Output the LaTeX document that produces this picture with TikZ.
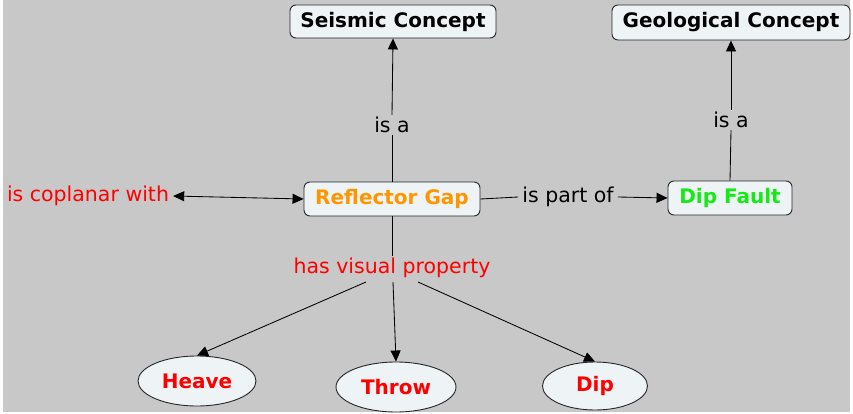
\documentclass[tikz,border=0pt]{standalone}
\usepackage{fontspec}
\setmainfont{DejaVu Sans}
\usetikzlibrary{arrows.meta,shapes.geometric}
\definecolor{bg}{RGB}{200,200,200}
\definecolor{boxfill}{RGB}{238,244,246}
\definecolor{orangetxt}{RGB}{255,150,0}
\definecolor{greentxt}{RGB}{20,235,20}
\definecolor{redtxt}{RGB}{255,0,0}
\tikzset{
  concept/.style={draw=black!85, line width=0.9pt, fill=boxfill, rounded corners=6pt, font=\fontsize{20}{22}\selectfont\bfseries, inner sep=0pt, minimum height=33pt},
  oval/.style={draw=black!85, line width=0.9pt, fill=boxfill, ellipse, font=\fontsize{20}{22}\selectfont\bfseries, text=redtxt, inner sep=0pt},
  lbl/.style={font=\fontsize{20.5}{22}\selectfont, inner xsep=4pt, inner ysep=2pt},
  conn/.style={line width=0.85pt, draw=black},
  arr/.style={conn, -{Triangle[length=11pt,width=10pt]}},
}
\begin{document}
\begin{tikzpicture}[x=1pt,y=-1pt]
\fill[white] (0,0) rectangle (853,414);
\fill[bg] (3,0) rectangle (850,412);
\useasboundingbox (0,0) rectangle (853,414);

\node[concept, minimum width=206pt] (seis) at (393,21.5) {Seismic Concept};
\node[concept, minimum width=238pt, minimum height=35pt] (geo) at (731,22.5) {Geological Concept};
\node[concept, minimum width=176pt, minimum height=34pt, text=orangetxt] (gap) at (392,199) {Reflector Gap};
\node[concept, minimum width=124pt, minimum height=34pt, text=greentxt] (fault) at (730,198) {Dip Fault};

\node[lbl, text=redtxt] (cop) at (88,196) {is coplanar with};
\node[lbl] (isa1) at (392,125) {is a};
\node[lbl] (isa2) at (731,120) {is a};
\node[lbl] (part) at (568,197) {is part of};
\node[lbl, text=redtxt] (hvp) at (392,268) {has visual property};

\node[oval, minimum width=118pt, minimum height=50pt] (heave) at (197,381) {Heave};
\node[oval, minimum width=120pt, minimum height=50pt] (throw) at (396,387) {Throw};
\node[oval, minimum width=105pt, minimum height=48pt] (dip) at (595,386) {Dip};

\draw[conn] (gap.north) -- (isa1.south);
\draw[arr] (isa1.north) -- (seis.south);

\draw[conn] (fault.north) -- (isa2.south);
\draw[arr] (isa2.north) -- (geo.south);

\draw[conn] (gap.east) -- (part.west);
\draw[arr] (part.east) -- (fault.west);

\draw[conn, {Triangle[length=11pt,width=10pt]}-{Triangle[length=11pt,width=10pt]}] (cop.east) -- (gap.west);

\draw[conn] (gap.south) -- (hvp.north);
\coordinate (h1) at (366,282);
\coordinate (h2) at (393,282);
\coordinate (h3) at (418,282);
\draw[arr] (h1) -- (heave.north);
\draw[arr] (h2) -- (throw.north);
\draw[arr] (h3) -- (dip.north);
\end{tikzpicture}
\end{document}
